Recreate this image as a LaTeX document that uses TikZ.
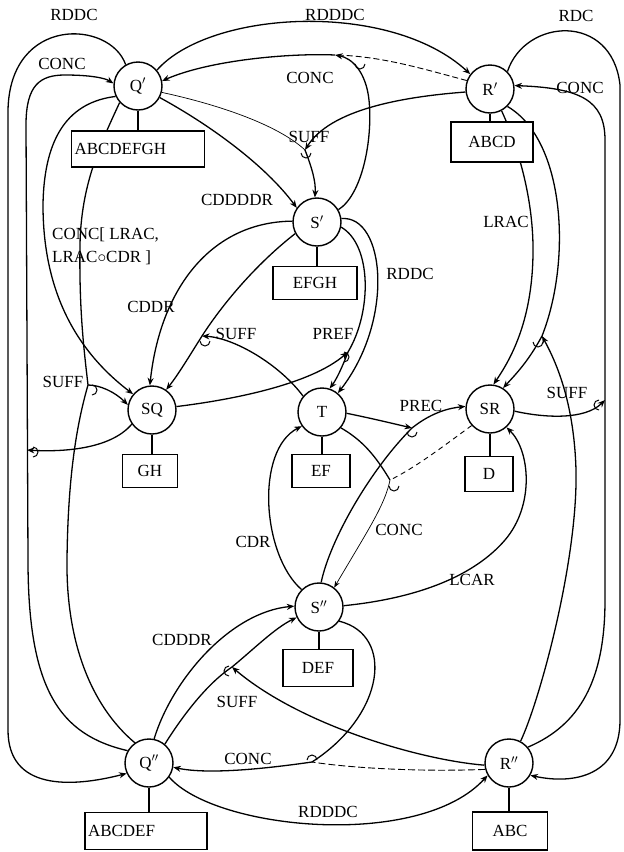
\documentclass[tikz,border=0pt]{standalone}
\usepackage{fontspec}
\setmainfont{Liberation Serif}
\usetikzlibrary{arrows.meta}
\newcommand{\jmark}[2]{\draw[line width=1pt] #1 ++(#2:5pt) arc[start angle=#2,delta angle=180,radius=5pt];}
\begin{document}
\begin{tikzpicture}[x=1pt,y=-1pt,
  every node/.style={font=\fontsize{17}{19}\selectfont},
  st/.style={circle,draw,line width=1.4pt,minimum size=48pt,inner sep=0pt,fill=white},
  bx/.style={draw,line width=1.4pt,fill=white,inner sep=0pt},
  lab/.style={inner sep=0pt},
  ln/.style={line width=1.3pt},
  thn/.style={line width=0.7pt},
  arr/.style={line width=1.3pt,-{Stealth[length=7.5pt,width=6pt]}},
  tarr/.style={line width=0.7pt,-{Stealth[length=6.5pt,width=5pt]}},
]
\useasboundingbox (0,0) rectangle (624,852);

% state nodes
\node[st] (Qp)  at (138,86)  {Q$'$};
\node[st] (Rp)  at (490,89)  {R$'$};
\node[st] (Sp)  at (317,222) {S$'$};
\node[st] (SQ)  at (152,410) {SQ};
\node[st] (Tn)  at (322,412) {T};
\node[st] (SR)  at (490,409) {SR};
\node[st] (Spp) at (319,607) {S$''$};
\node[st] (Qpp) at (149,763) {Q$''$};
\node[st] (Rpp) at (509,763) {R$''$};

% junction points
\coordinate (jL1) at (27,450);
\coordinate (jL2) at (88,385);
\coordinate (jT)  at (335,55);
\coordinate (jS)  at (305,150);
\coordinate (jM)  at (202,336);
\coordinate (jP)  at (348,352);
\coordinate (jR)  at (412,428);
\coordinate (jC)  at (390,480);
\coordinate (jRL) at (542,336);
\coordinate (jRs) at (605,400);
\coordinate (jSb) at (232,667);
\coordinate (jB)  at (312,762);

% ---- left side
\draw[arr] (Qp.120) .. controls (110,20) and (10,15) .. (8,110) -- (8,730) .. controls (8,790) and (70,788) .. (Qpp.205);
\draw[arr] (Qpp.150) .. controls (60,735) and (28,690) .. (28,560) -- (26,125) .. controls (26,85) and (40,75) .. (65,75) .. controls (90,75) and (105,78) .. (Qp.174);
\draw[arr] (SQ.215) .. controls (110,450) and (60,452) .. (jL1);
\draw[arr] (Qp.205) .. controls (70,102) and (44,135) .. (43,205) .. controls (43,290) and (75,350) .. (SQ.140);
\draw[ln] (Qp.222) .. controls (100,145) and (81,185) .. (80,245) .. controls (79,310) and (84,350) .. (jL2);
\draw[ln] (Qpp.125) .. controls (90,705) and (66,640) .. (67,560) .. controls (68,470) and (78,420) .. (jL2);
\draw[arr] (jL2) .. controls (100,385) and (115,392) .. (SQ.168);

% ---- top
\draw[arr] (Qp.40) .. controls (210,10) and (390,0) .. (Rp.143);
\draw[line width=0.9pt,dash pattern=on 6pt off 3pt] (Rp.160) .. controls (420,68) and (380,56) .. (jT);
\draw[arr] (jT) .. controls (290,53) and (210,60) .. (Qp.12);
\draw[arr] (Sp.30) .. controls (362,195) and (373,140) .. (369,100) .. controls (366,72) and (352,58) .. (jT);
\draw[thn] (Qp.-15) .. controls (220,105) and (278,125) .. (jS);
\draw[arr] (Rp.187) .. controls (400,97) and (330,110) .. (jS);
\draw[arr] (jS) .. controls (312,168) and (316,182) .. (Sp.95);
\draw[arr] (Qp.-28) .. controls (210,125) and (265,165) .. (Sp.145);

% ---- around S', SQ, T
\draw[arr] (Sp.178) .. controls (210,222) and (160,290) .. (SQ.95);
\draw[arr] (Sp.208) .. controls (255,265) and (222,305) .. (jM) .. controls (190,355) and (178,375) .. (SQ.55);
\draw[arr] (Tn.140) .. controls (280,365) and (235,338) .. (jM);
\draw[arr] (Sp.8) .. controls (385,215) and (395,320) .. (Tn.50);
\draw[arr] (Sp.-12) .. controls (372,245) and (372,312) .. (jP) .. controls (342,368) and (336,380) .. (Tn.72);
\draw[arr] (SQ.8) .. controls (230,400) and (310,385) .. (jP);

% ---- middle, S''
\draw[arr] (Spp.135) .. controls (262,555) and (255,450) .. (Tn.215);
\draw[arr] (Spp.85) .. controls (330,540) and (370,470) .. (jR) .. controls (432,412) and (450,408) .. (SR.174);
\draw[arr] (Tn.-3) .. controls (370,418) and (395,424) .. (jR);
\draw[ln] (Tn.-40) .. controls (362,440) and (375,455) .. (jC);
\draw[line width=0.9pt,dash pattern=on 5pt off 4pt] (SR.222) .. controls (445,445) and (415,468) .. (jC);
\draw[tarr] (jC) .. controls (385,505) and (368,530) .. (Spp.52);
\draw[arr] (Spp.3) .. controls (420,598) and (475,575) .. (505,540) .. controls (535,505) and (530,450) .. (SR.-48);

% ---- right side
\draw[arr] (Rp.45) .. controls (525,18) and (612,12) .. (620,85) -- (620,720) .. controls (620,775) and (575,785) .. (Rpp.-30);
\draw[arr] (Rpp.40) .. controls (580,725) and (605,680) .. (605,600) -- (605,140) .. controls (605,100) and (580,88) .. (Rp.8);
\draw[arr] (SR.-5) .. controls (545,418) and (585,420) .. (jRs);
\draw[arr] (Rp.-45) .. controls (565,140) and (572,260) .. (jRL) .. controls (528,362) and (515,375) .. (SR.58);
\draw[arr] (Rpp.62) .. controls (540,700) and (578,560) .. (576,470) .. controls (574,400) and (555,360) .. (jRL);
\draw[arr] (Rp.-62) .. controls (515,140) and (532,190) .. (533,245) .. controls (534,320) and (510,360) .. (SR.82);

% ---- bottom
\draw[ln] (Spp.-35) .. controls (395,635) and (385,715) .. (jB);
\draw[line width=0.9pt,dash pattern=on 7pt off 3pt] (Rpp.195) .. controls (420,772) and (350,768) .. (jB);
\draw[arr] (jB) .. controls (270,768) and (210,775) .. (Qpp.-10);
\draw[arr] (Rpp.185) .. controls (420,760) and (300,725) .. (jSb);
\draw[arr] (Qpp.50) .. controls (180,720) and (205,685) .. (jSb) .. controls (255,648) and (275,628) .. (Spp.205);
\draw[arr] (Qpp.78) .. controls (172,680) and (230,612) .. (Spp.178);
\draw[arr] (Qpp.-35) .. controls (215,830) and (420,850) .. (Rpp.210);

% junction marks
\jmark{(33,452)}{-90}
\jmark{(92,390)}{-90}
\jmark{(360,64)}{180}
\jmark{(306,153)}{180}
\jmark{(205,341)}{180}
\jmark{(344,357)}{-90}
\jmark{(412,432)}{180}
\jmark{(394,486)}{180}
\jmark{(538,342)}{180}
\jmark{(599,405)}{90}
\jmark{(229,671)}{90}
\jmark{(312,760)}{0}

% boxes
\node[bx,text width=127pt,inner xsep=3pt,align=left,minimum height=36pt] (bQp) at (138,149) {ABCDEFGH};
\node[bx,minimum width=82pt,minimum height=40pt] (bRp) at (492,142) {ABCD};
\node[bx,minimum width=84pt,minimum height=33pt] (bSp) at (315,283) {EFGH};
\node[bx,minimum width=55pt,minimum height=33pt] (bSQ) at (150,471) {GH};
\node[bx,minimum width=58pt,minimum height=33pt] (bT) at (321,471) {EF};
\node[bx,minimum width=48pt,minimum height=35pt] (bSR) at (489,474) {D};
\node[bx,minimum width=70pt,minimum height=37pt] (bSpp) at (318,668) {DEF};
\node[bx,text width=116pt,inner xsep=3pt,align=left,minimum height=37pt] (bQpp) at (146,831) {ABCDEF};
\node[bx,minimum width=75pt,minimum height=38pt] (bRpp) at (510,831) {ABC};

\foreach \s/\b in {Qp/bQp,Rp/bRp,Sp/bSp,SQ/bSQ,Tn/bT,SR/bSR,Spp/bSpp,Qpp/bQpp,Rpp/bRpp}
  \draw[ln] (\s.south) -- (\s.south |- \b.north);

% labels
\node[lab] (l1)  at (74,15)   {RDDC};
\node[lab] (l2)  at (335,15)  {RDDDC};
\node[lab] (l3)  at (576,16)  {RDC};
\node[lab] (l4)  at (62,64)   {CONC};
\node[lab] (l5)  at (310,78)  {CONC};
\node[lab] (l6)  at (580,88)  {CONC};
\node[lab] (l7)  at (309,137) {SUFF};
\node[lab] (l8)  at (237,200) {CDDDDR};
\node[lab,anchor=west,align=left,font=\fontsize{17}{23}\selectfont] (l9) at (52,246) {CONC[ LRAC,\\LRAC$\circ$CDR ]};
\node[lab] (l10) at (151,307) {CDDR};
\node[lab] (l11) at (236,334) {SUFF};
\node[lab] (l12) at (333,334) {PREF};
\node[lab] (l13) at (410,274) {RDDC};
\node[lab] (l14) at (506,222) {LRAC};
\node[lab] (l15) at (63,382)  {SUFF};
\node[lab] (l16) at (421,406) {PREC};
\node[lab] (l17) at (567,393) {SUFF};
\node[lab] (l18) at (399,530) {CONC};
\node[lab] (l19) at (253,542) {CDR};
\node[lab] (l20) at (472,580) {LCAR};
\node[lab] (l21) at (182,640) {CDDDR};
\node[lab] (l22) at (237,702) {SUFF};
\node[lab] (l23) at (248,759) {CONC};
\node[lab] (l24) at (328,812) {RDDDC};
\end{tikzpicture}
\end{document}
